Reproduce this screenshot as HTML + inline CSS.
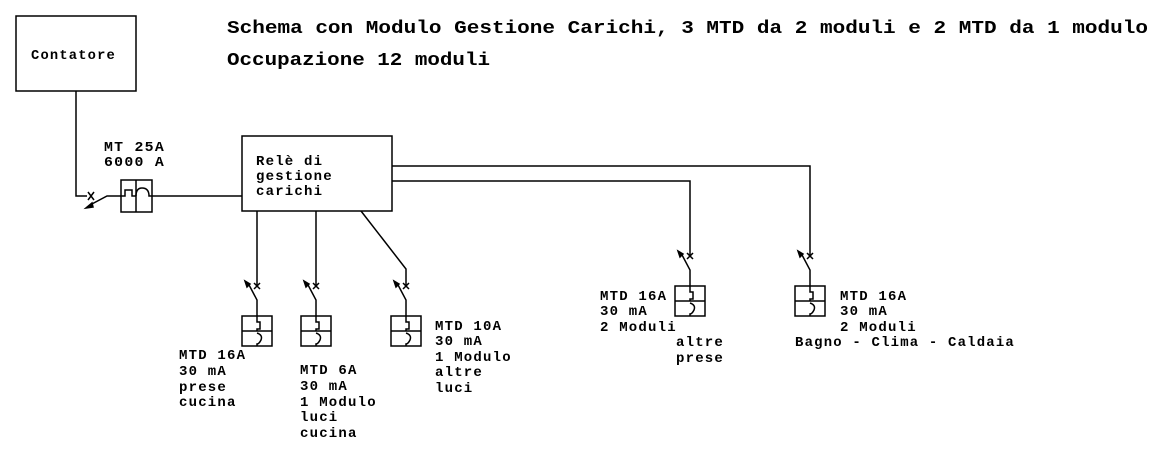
<!DOCTYPE html>
<html><head><style>
body{margin:0;background:#fff}
svg{display:block}
text{font-family:"Liberation Mono","DejaVu Sans Mono","Courier New",monospace;font-weight:bold;font-size:14px;letter-spacing:1.2px;fill:#000}
.t{font-size:18px;letter-spacing:0}
</style></head><body>
<svg width="1163" height="450" viewBox="0 0 1163 450" xmlns="http://www.w3.org/2000/svg">
<defs>
<g id="mtd" fill="none" stroke="#000" stroke-width="1.5">
 <path d="M-3,-3 L3,3 M-3,3 L3,-3"/>
 <path d="M-9,-3 L0,14 V30"/>
 <path d="M-12,-5 L-7,-2 L-10,1 Z" fill="#000"/>
 <rect x="-15" y="30" width="30" height="30"/>
 <path d="M-15,45 H15"/>
 <path d="M0,30 V36 H3 V43 H0 V45 M0,47 Q6,49 4,54 Q2,58 0,58 V60"/>
</g>
</defs>
<rect x="16" y="16" width="120" height="75" fill="none" stroke="#000" stroke-width="1.5"/>
<text x="31" y="59" textLength="85" lengthAdjust="spacingAndGlyphs">Contatore</text>
<text class="t" x="227" y="33" textLength="921" lengthAdjust="spacingAndGlyphs">Schema con Modulo Gestione Carichi, 3 MTD da 2 moduli e 2 MTD da 1 modulo</text>
<text class="t" x="227" y="65" textLength="263" lengthAdjust="spacingAndGlyphs">Occupazione 12 moduli</text>
<g fill="none" stroke="#000" stroke-width="1.5">
 <path d="M76,91 V196 H87"/>
 <path d="M88,192 L94,200 M88,200 L94,192"/>
 <path d="M90,205 L107,196 H121"/>
 <path d="M86,208 L92,203 L93,207 Z" fill="#000"/>
 <rect x="121" y="180" width="31" height="32"/>
 <path d="M136,180 V212"/>
 <path d="M121,196 H125 V190 H132 V196 H136 M136,196 Q136,188 142,188 Q149,188 149,196 H152"/>
 <path d="M152,196 H242"/>
 <rect x="242" y="136" width="150" height="75"/>
 <path d="M392,166 H810 V256 M392,181 H690 V256"/>
 <path d="M257,211 V286 M316,211 V286 M361,211 L406,269 V286"/>
</g>
<text x="104" y="151" textLength="61" lengthAdjust="spacingAndGlyphs">MT 25A</text>
<text x="104" y="166" textLength="61" lengthAdjust="spacingAndGlyphs">6000 A</text>
<text x="256" y="165">Relè di</text>
<text x="256" y="180">gestione</text>
<text x="256" y="195">carichi</text>
<use href="#mtd" x="257" y="286"/>
<use href="#mtd" x="316" y="286"/>
<use href="#mtd" x="406" y="286"/>
<use href="#mtd" x="690" y="256"/>
<use href="#mtd" x="810" y="256"/>
<text x="179" y="359">MTD 16A</text><text x="179" y="375">30 mA</text><text x="179" y="391">prese</text><text x="179" y="406">cucina</text>
<text x="300" y="374">MTD 6A</text><text x="300" y="390">30 mA</text><text x="300" y="406">1 Modulo</text><text x="300" y="421">luci</text><text x="300" y="437">cucina</text>
<text x="435" y="330">MTD 10A</text><text x="435" y="345">30 mA</text><text x="435" y="361">1 Modulo</text><text x="435" y="376">altre</text><text x="435" y="392">luci</text>
<text x="600" y="300">MTD 16A</text><text x="600" y="315">30 mA</text><text x="600" y="331">2 Moduli</text><text x="676" y="346">altre</text><text x="676" y="362">prese</text>
<text x="840" y="300">MTD 16A</text><text x="840" y="315">30 mA</text><text x="840" y="331">2 Moduli</text><text x="795" y="346" textLength="220" lengthAdjust="spacingAndGlyphs">Bagno - Clima - Caldaia</text>
</svg>
</body></html>
